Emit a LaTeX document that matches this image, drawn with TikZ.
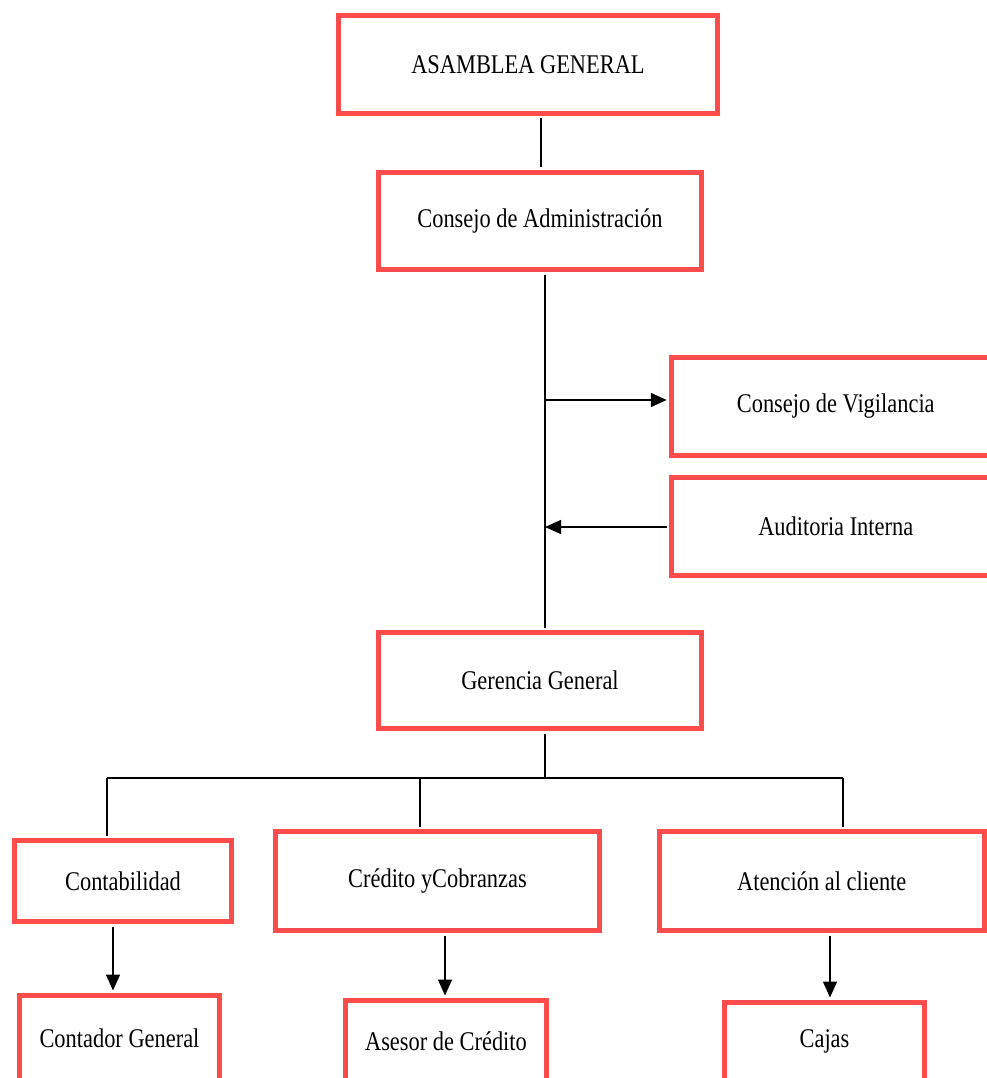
\documentclass[tikz,border=0pt]{standalone}
\usepackage{fontspec}
\setmainfont{Liberation Serif}[FakeStretch=0.83]
\usetikzlibrary{arrows.meta}
\definecolor{boxred}{RGB}{252,76,76}
\begin{document}
\begin{tikzpicture}[x=1pt,y=-1pt,
  orgbox/.style={draw=boxred,line width=5pt,fill=white,inner sep=0pt,
    font=\fontsize{27}{30}\selectfont},
  conn/.style={draw=black,line width=1.5pt},
  arr/.style={conn,-{Triangle[length=16pt,width=14pt]},shorten >=2.5pt,shorten <=2.5pt}]
\clip (0,0) rectangle (987,1078);
\fill[white] (0,0) rectangle (987,1078);
% boxes
\node[orgbox,minimum width=379pt,minimum height=98pt] (asam) at (528,64.5) {ASAMBLEA GENERAL};
\node[orgbox,minimum width=323pt,minimum height=97pt] (admin) at (540,221) {Consejo de Administración};
\node[orgbox,minimum width=328pt,minimum height=98pt] (vig) at (835.75,406.5) {Consejo de Vigilancia};
\node[orgbox,minimum width=328pt,minimum height=98pt] (aud) at (835.75,526.5) {Auditoria Interna};
\node[orgbox,minimum width=323pt,minimum height=96pt] (ger) at (540,680.5) {Gerencia General};
\node[orgbox,minimum width=217pt,minimum height=81pt] (cont) at (123,881) {Contabilidad};
\node[orgbox,minimum width=324pt,minimum height=99pt] (cred) at (437.5,881) {Crédito yCobranzas};
\node[orgbox,minimum width=324.5pt,minimum height=99pt] (aten) at (821.75,881) {Atención al cliente};
\node[orgbox,minimum width=200pt,minimum height=85.5pt] (contador) at (119.5,1038.25) {Contador General};
\node[orgbox,minimum width=201pt,minimum height=80.5pt] (asesor) at (446,1040.75) {Asesor de Crédito};
\node[orgbox,minimum width=200pt,minimum height=78.5pt] (cajas) at (824.5,1041.75) {Cajas};
% connectors
\draw[conn,shorten >=2.5pt,shorten <=2.5pt] ([xshift=13pt]asam.south) -- ([xshift=1pt]admin.north);
\draw[conn,shorten >=2.5pt,shorten <=2.5pt] ([xshift=5pt]admin.south) -- ([xshift=5pt]ger.north);
\coordinate (t1) at (545,400);
\coordinate (t2) at (545,527);
\draw[arr,shorten <=0pt] (t1) -- (vig.west |- t1);
\draw[arr,shorten >=0pt] (aud.west |- t2) -- (t2);
\coordinate (bC) at (545,778);
\coordinate (bL) at (107,778);
\coordinate (bM) at (420,778);
\coordinate (bR) at (843,778);
\draw[conn,shorten <=2.5pt] ([xshift=5pt]ger.south) -- (bC);
\draw[conn] (bL) -- (bR);
\draw[conn,shorten >=2.5pt] (bL) -- (bL |- cont.north);
\draw[conn,shorten >=2.5pt] (bM) -- (bM |- cred.north);
\draw[conn,shorten >=2.5pt] (bR) -- (bR |- aten.north);
\draw[arr] ([xshift=-10pt]cont.south) -- ([xshift=-6.5pt]contador.north);
\draw[arr] ([xshift=7.5pt]cred.south) -- ([xshift=-1pt]asesor.north);
\draw[arr] ([xshift=8.25pt]aten.south) -- ([xshift=5.5pt]cajas.north);
\end{tikzpicture}
\end{document}
